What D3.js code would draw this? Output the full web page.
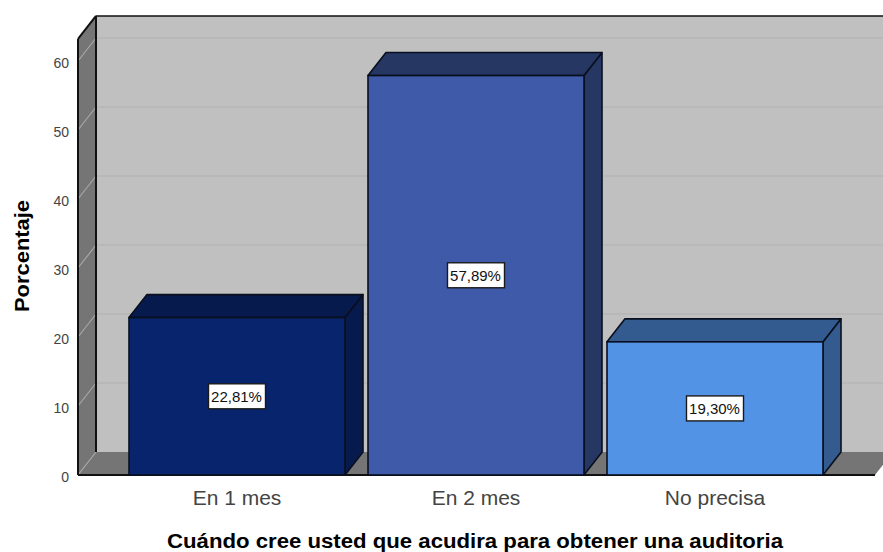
<!DOCTYPE html>
<html><head><meta charset="utf-8">
<script src="https://cdn.jsdelivr.net/npm/d3@7"></script>
<style>html,body{margin:0;padding:0;background:#fff}svg{display:block}text{font-family:"Liberation Sans",Arial,sans-serif}</style>
</head><body><svg id="c" width="883" height="552"></svg>
<script>
const categories = ["En 1 mes", "En 2 mes", "No precisa"];
const values = [22.81, 57.89, 19.30];
const valueLabels = ["22,81%", "57,89%", "19,30%"];
const frontColors = ["#08246c", "#3f5aa8", "#5293e6"];
const sideColors = ["#061a4d", "#263764", "#335b8f"];
const yTicks = [0, 10, 20, 30, 40, 50, 60];
const xTitle = "Cuándo cree usted que acudira para obtener una auditoria";
const yTitle = "Porcentaje";

const svg = d3.select("#c");
const dx = 18, dy = -23;
const y = d3.scaleLinear().domain([0, 60]).range([475, 61]);
const x = d3.scaleBand().domain(categories).range([129, 823]).paddingInner(23 / 239).paddingOuter(0);
const leftX = 78, rightX = 875, topY = y(63.2);
const poly = (pts, fill, stroke, sw) => svg.append("polygon")
  .attr("points", pts.map(p => p.join(",")).join(" "))
  .attr("fill", fill).attr("stroke", stroke || "none").attr("stroke-width", sw || 0).attr("stroke-linejoin", "round");
const seg = (a, b, c, w) => svg.append("line").attr("x1", a[0]).attr("y1", a[1]).attr("x2", b[0]).attr("y2", b[1]).attr("stroke", c).attr("stroke-width", w);

// back wall
svg.append("rect").attr("x", leftX + dx).attr("y", topY + dy).attr("width", 883 - leftX - dx + 1).attr("height", y(0) - topY)
  .attr("fill", "#c0c0c0");
// left wall & floor
poly([[leftX, y(0)], [leftX, topY], [leftX + dx, topY + dy], [leftX + dx, y(0) + dy]], "#757575");
poly([[leftX, y(0)], [leftX + dx, y(0) + dy], [rightX + dx, y(0) + dy], [rightX, y(0)]], "#757575");

// gridlines
yTicks.forEach(t => {
  if (t > 0) seg([leftX + dx, y(t) + dy], [884, y(t) + dy], "#b6b6b6", 1.5);
  seg([leftX, y(t)], [leftX + dx, y(t) + dy], "#a8a8a8", 1.2);
});
// frame edges
seg([leftX, topY], [leftX, y(0)], "#111", 2);
seg([leftX + dx, topY + dy], [leftX + dx, y(0) + dy], "#111", 2);
seg([leftX, topY], [leftX + dx, topY + dy], "#111", 2);
seg([leftX + dx, topY + dy], [884, topY + dy], "#111", 1.5);
seg([leftX, y(0)], [rightX, y(0)], "#111", 2);

// bars
categories.forEach((c, i) => {
  const x0 = x(c), x1 = x0 + x.bandwidth(), yt = y(values[i]), yb = y(0);
  poly([[x1, yb], [x1, yt], [x1 + dx, yt + dy], [x1 + dx, yb + dy]], sideColors[i], "#0a0f1e", 1.6);
  poly([[x0, yt], [x0 + dx, yt + dy], [x1 + dx, yt + dy], [x1, yt]], sideColors[i], "#0a0f1e", 1.6);
  svg.append("rect").attr("x", x0).attr("y", yt).attr("width", x.bandwidth()).attr("height", yb - yt)
    .attr("fill", frontColors[i]).attr("stroke", "#0a0f1e").attr("stroke-width", 1.6);
});

// data labels
categories.forEach((c, i) => {
  const cx = x(c) + x.bandwidth() / 2, cy = y(values[i] / 2);
  svg.append("rect").attr("x", cx - 28.5).attr("y", cy - 12.5).attr("width", 57).attr("height", 25)
    .attr("fill", "#fff").attr("stroke", "#1a1a1a").attr("stroke-width", 1.4);
  svg.append("text").attr("x", cx - 0.5).attr("y", cy + 5.5).attr("text-anchor", "middle")
    .attr("font-size", 15).attr("fill", "#111").text(valueLabels[i]);
});

// axis labels
yTicks.forEach(t => svg.append("text").attr("x", 69).attr("y", y(t) + 7).attr("text-anchor", "end")
  .attr("font-size", 14).attr("fill", "#444").text(t));
categories.forEach(c => svg.append("text").attr("x", x(c) + x.bandwidth() / 2).attr("y", 505).attr("text-anchor", "middle")
  .attr("font-size", 21).attr("fill", "#444").text(c));
svg.append("text").attr("x", 475).attr("y", 548).attr("text-anchor", "middle")
  .attr("font-size", 20).attr("font-weight", "bold").attr("fill", "#000")
  .attr("textLength", 616).attr("lengthAdjust", "spacingAndGlyphs").text(xTitle);
svg.append("text").attr("transform", "translate(29,256) rotate(-90)").attr("text-anchor", "middle")
  .attr("font-size", 20).attr("font-weight", "bold").attr("fill", "#000")
  .attr("textLength", 112).attr("lengthAdjust", "spacingAndGlyphs").text(yTitle);
</script></body></html>
